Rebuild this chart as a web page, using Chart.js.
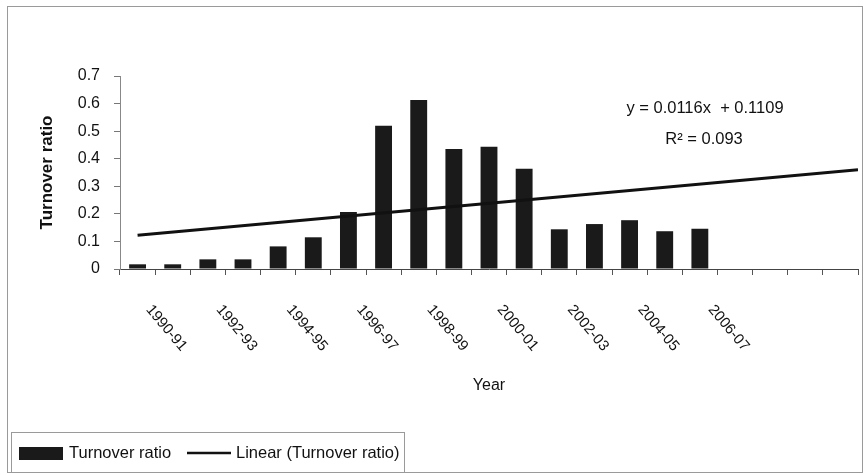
<!DOCTYPE html>
<html>
<head>
<meta charset="utf-8">
<script src="https://cdn.jsdelivr.net/npm/chart.js@4"></script>
<style>
  html, body { margin: 0; padding: 0; background: #fff; }
  #wrap { width: 865px; height: 475px; position: relative; }
</style>
</head>
<body>
<div id="wrap"><canvas id="grafico"></canvas></div>
<script>
// Dados
const anos = ["1990-91", "1991-92", "1992-93", "1993-94", "1994-95", "1995-96", "1996-97",
    "1997-98", "1998-99", "1999-00", "2000-01", "2001-02", "2002-03", "2003-04",
    "2004-05", "2005-06", "2006-07", "", "", "", ""];
const turnover = [0.017, 0.017, 0.035, 0.035, 0.082, 0.115, 0.207, 0.52, 0.613, 0.435,
    0.443, 0.364, 0.144, 0.163, 0.177, 0.137, 0.146];
// linha de tendência (pontos extremos)
const trendX = [1, 21.5];
const trendY = [0.1225, 0.3603];
const equacao = "y = 0.0116x  + 0.1109";
const r2 = "R\u00B2 = 0.093";

const fonte = "'Liberation Sans', Arial, sans-serif";

// moldura, rótulos girados do eixo x, equação e legenda >>>>>>>>>>>>>>>>>>>>>>>>>>>>
const extras = {
    id: "extras",
    beforeDraw(chart) {
        const c = chart.ctx;
        c.save();
        c.fillStyle = "#fff";
        c.fillRect(0, 0, chart.width, chart.height);
        c.strokeStyle = "#9a9a9a";
        c.lineWidth = 1;
        c.strokeRect(7.5, 6.5, 855, 466);
        c.restore();
    },
    afterDraw(chart) {
        const c = chart.ctx;
        const xs = chart.scales.x;
        c.save();
        c.fillStyle = "#111";
        c.font = "15px " + fonte;
        c.textAlign = "left";
        c.textBaseline = "middle";
        anos.forEach((a, i) => {
            if (!a || i % 2 !== 0) return;
            const x = xs.getPixelForValue(i);
            c.save();
            c.translate(x + 11, xs.top + 38);
            c.rotate((50 * Math.PI) / 180);
            c.fillText(a, 0, 0);
            c.restore();
        });

        // equação da tendência
        c.font = "16.5px " + fonte;
        c.textAlign = "center";
        c.fillText(equacao, 705, 108);
        c.fillText(r2, 704, 139);

        // legenda
        c.strokeStyle = "#9a9a9a";
        c.lineWidth = 1;
        c.strokeRect(11.5, 432.5, 393, 40);
        c.fillStyle = "#1a1a1a";
        c.fillRect(19, 447, 44, 13);
        c.font = "16.5px " + fonte;
        c.textAlign = "left";
        c.fillStyle = "#111";
        c.fillText("Turnover ratio", 69, 453);
        c.strokeStyle = "#111";
        c.lineWidth = 2.5;
        c.beginPath();
        c.moveTo(187, 453);
        c.lineTo(231, 453);
        c.stroke();
        c.fillText("Linear (Turnover ratio)", 236, 453);
        c.restore();
    },
};

const ctx = document.getElementById("grafico").getContext("2d");
new Chart(ctx, {
    data: {
        labels: anos,
        datasets: [
            {
                type: "line",
                label: "Linear (Turnover ratio)",
                xAxisID: "xt",
                data: trendX.map((x, i) => ({ x: x, y: trendY[i] })),
                borderColor: "#111",
                borderWidth: 3,
                pointRadius: 0,
                tension: 0,
                order: 0,
            },
            {
                type: "bar",
                label: "Turnover ratio",
                data: turnover,
                backgroundColor: "#1a1a1a",
                grouped: false,
                barPercentage: 0.48,
                categoryPercentage: 1,
                maxBarThickness: 17,
                order: 1,
            },
        ],
    },
    options: {
        responsive: true,
        maintainAspectRatio: false,
        animation: false,
        layout: { padding: { left: 8, right: 7, top: 76, bottom: 0 } },
        plugins: {
            legend: { display: false },
            tooltip: { enabled: false },
        },
        scales: {
            x: {
                type: "category",
                offset: true,
                grid: {
                    offset: true,
                    drawOnChartArea: false,
                    tickLength: 6,
                    color: "#555",
                },
                border: { color: "#444", width: 1 },
                ticks: { display: false },
                title: {
                    display: true,
                    text: "Year",
                    color: "#111",
                    font: { family: fonte, size: 16 },
                    padding: { top: 0, bottom: 80 },
                },
                afterFit: (s) => { s.height = 206; },
            },
            xt: {
                type: "linear",
                display: false,
                min: 0.5,
                max: 21.5,
            },
            y: {
                min: 0,
                max: 0.7,
                grid: {
                    drawOnChartArea: false,
                    tickLength: 6,
                    color: "#777",
                },
                border: { color: "#888", width: 1 },
                ticks: {
                    stepSize: 0.1,
                    padding: 14,
                    color: "#111",
                    font: { family: fonte, size: 16 },
                },
                title: {
                    display: true,
                    text: "Turnover ratio",
                    color: "#111",
                    font: { family: fonte, size: 17, weight: "bold" },
                    padding: { top: 29, bottom: 0 },
                },
                afterFit: (s) => { s.width = 112; },
            },
        },
    },
    plugins: [extras],
});
</script>
</body>
</html>
